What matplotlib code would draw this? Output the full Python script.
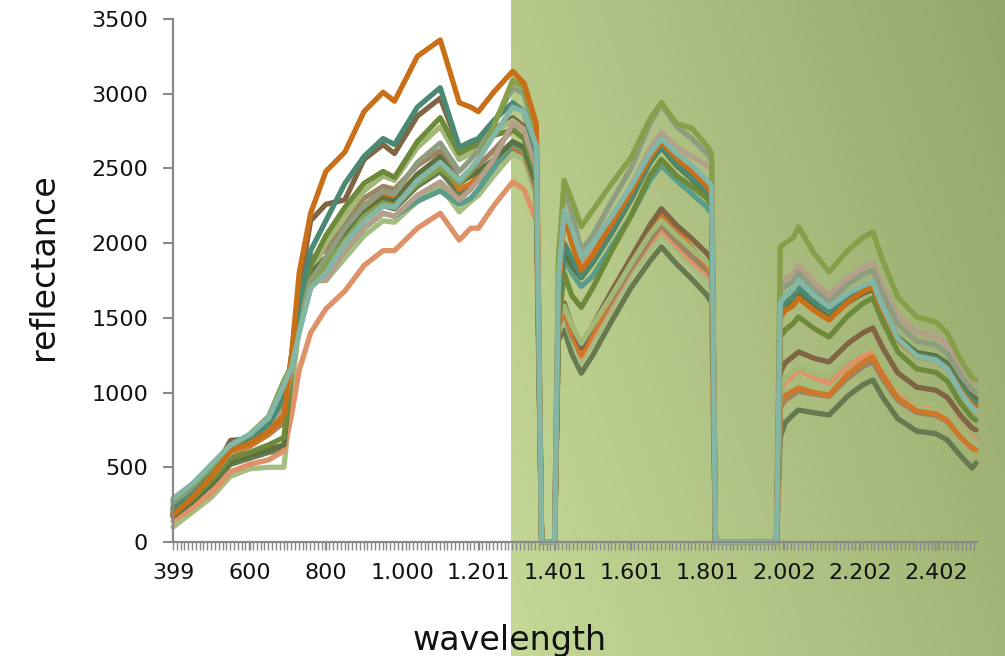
import numpy as np
import matplotlib
matplotlib.use("Agg")
import matplotlib.pyplot as plt
from matplotlib.colors import to_rgb

# ---------------- data ----------------
wavelength = [399, 450, 500, 550, 600, 650, 690, 710, 730, 760,
              800, 850, 900, 950, 980, 1040, 1100, 1150, 1180, 1200, 1240, 1290, 1320, 1352,
              1366, 1400,
              1410, 1425, 1445, 1470, 1500, 1550, 1600, 1650, 1680, 1720, 1760, 1800, 1812,
              1822, 1982,
              1992, 2005, 2025, 2040, 2080, 2120, 2170, 2210, 2235, 2260, 2300, 2350, 2400, 2430, 2465, 2495, 2505]

orange = [180, 300, 440, 610, 660, 740, 850, 1250, 1800, 2200,
          2480, 2610, 2880, 3010, 2950, 3250, 3360, 2940, 2910, 2880, 3010, 3150, 3070, 2800,
          0, 0,
          1650, 2200, 2000, 1820, 1920, 2130, 2340, 2570, 2680, 2570, 2480, 2380, 2330,
          0, 0,
          1500, 1550, 1580, 1633, 1550, 1486, 1608, 1678, 1707, 1554, 1353, 1241, 1217, 1160, 1016, 919, 903]
dark_teal = [220, 320, 450, 620, 680, 790, 960, 1200, 1600, 1950,
             2150, 2400, 2580, 2700, 2660, 2910, 3040, 2640, 2680, 2700, 2820, 2940, 2880, 2600,
             0, 0,
             1600, 2000, 1900, 1780, 1880, 2080, 2300, 2540, 2650, 2530, 2440, 2350, 2300,
             0, 0,
             1560, 1600, 1640, 1700, 1610, 1553, 1634, 1681, 1700, 1554, 1361, 1253, 1230, 1176, 1038, 945, 930]
brown = [200, 310, 450, 680, 690, 770, 900, 1250, 1700, 2150,
         2260, 2290, 2560, 2660, 2600, 2850, 2970, 2640, 2660, 2680, 2760, 2840, 2780, 2500,
         0, 0,
         1500, 1600, 1450, 1300, 1450, 1680, 1900, 2120, 2230, 2120, 2030, 1930, 1890,
         0, 0,
         1138, 1200, 1240, 1272, 1230, 1205, 1330, 1402, 1432, 1302, 1132, 1036, 1016, 968, 845, 763, 750]
olive = [190, 290, 410, 560, 600, 650, 700, 1150, 1500, 1850,
         2050, 2240, 2400, 2480, 2440, 2680, 2840, 2600, 2640, 2660, 2720, 2760, 2700, 2450,
         0, 0,
         1450, 1800, 1650, 1570, 1700, 1950, 2180, 2450, 2560, 2450, 2380, 2300, 2250,
         0, 0,
         1372, 1420, 1460, 1506, 1430, 1372, 1516, 1599, 1633, 1478, 1273, 1159, 1135, 1077, 930, 833, 816]
light_olive = [230, 330, 460, 620, 690, 800, 1000, 1180, 1480, 1800,
               2000, 2180, 2350, 2450, 2420, 2640, 2780, 2560, 2600, 2640, 2740, 2820, 2760, 2500,
               0, 0,
               1500, 1580, 1450, 1330, 1450, 1650, 1860, 2060, 2150, 2050, 1960, 1870, 1830,
               0, 0,
               1050, 1100, 1140, 1171, 1130, 1104, 1222, 1290, 1318, 1194, 1030, 938, 918, 873, 755, 676, 663]
grey_green = [260, 360, 480, 640, 700, 800, 980, 1180, 1450, 1750,
              1900, 2100, 2250, 2350, 2330, 2540, 2670, 2480, 2560, 2620, 2800, 3040, 3000, 2700,
              0, 0,
              1850, 2360, 2200, 1950, 2050, 2280, 2500, 2800, 2930, 2780, 2700, 2600, 2550,
              0, 0,
              1690, 1710, 1740, 1800, 1690, 1610, 1725, 1793, 1820, 1664, 1459, 1344, 1320, 1262, 1115, 1016, 1000]
dark_green = [170, 270, 390, 540, 580, 620, 650, 1150, 1500, 1800,
              1900, 2060, 2200, 2300, 2280, 2460, 2580, 2400, 2450, 2480, 2560, 2680, 2640, 2400,
              0, 0,
              1550, 1950, 1850, 1770, 1870, 2070, 2290, 2540, 2640, 2520, 2430, 2330, 2280,
              0, 0,
              1520, 1570, 1600, 1660, 1570, 1500, 1605, 1665, 1690, 1551, 1369, 1267, 1245, 1194, 1062, 975, 960]
teal_light = [290, 390, 520, 650, 720, 830, 1050, 1170, 1400, 1700,
              1800, 2000, 2150, 2250, 2240, 2420, 2540, 2420, 2500, 2560, 2720, 2910, 2880, 2650,
              0, 0,
              1750, 2220, 2100, 1910, 2000, 2180, 2380, 2600, 2700, 2600, 2520, 2420, 2380,
              0, 0,
              1600, 1650, 1690, 1753, 1650, 1573, 1665, 1718, 1740, 1577, 1363, 1243, 1217, 1157, 1003, 900, 883]
olive_green = [280, 380, 500, 640, 720, 840, 1080, 1180, 1420, 1700,
               1850, 2020, 2180, 2270, 2250, 2400, 2500, 2400, 2480, 2560, 2780, 3090, 3040, 2750,
               0, 0,
               1900, 2420, 2290, 2110, 2220, 2400, 2570, 2830, 2940, 2800, 2770, 2650, 2600,
               0, 0,
               1974, 2001, 2034, 2108, 1934, 1807, 1954, 2041, 2075, 1887, 1640, 1506, 1472, 1399, 1218, 1098, 1084]
tan = [210, 310, 440, 600, 660, 760, 900, 1150, 1450, 1750,
       1750, 1950, 2100, 2200, 2180, 2320, 2410, 2290, 2360, 2420, 2560, 2800, 2760, 2500,
       0, 0,
       1700, 2150, 2050, 1880, 1980, 2180, 2380, 2630, 2740, 2640, 2580, 2520, 2490,
       0, 0,
       1735, 1761, 1789, 1854, 1740, 1653, 1771, 1839, 1867, 1714, 1514, 1401, 1377, 1321, 1176, 1080, 1064]
light_green = [100, 200, 300, 440, 490, 500, 500, 1000, 1450, 1750,
               1750, 1900, 2050, 2150, 2140, 2280, 2380, 2210, 2280, 2320, 2450, 2600, 2560, 2300,
               0, 0,
               1400, 1500, 1360, 1200, 1330, 1560, 1780, 1960, 2050, 1950, 1850, 1730, 1690,
               0, 0,
               940, 1000, 1030, 1060, 1030, 1010, 1140, 1215, 1250, 1135, 983, 900, 882, 839, 730, 658, 640]
teal = [240, 330, 450, 600, 660, 740, 880, 1150, 1450, 1750,
        1780, 1950, 2100, 2200, 2180, 2280, 2350, 2260, 2300, 2360, 2500, 2670, 2620, 2380,
        0, 0,
        1500, 1900, 1800, 1710, 1780, 1980, 2180, 2420, 2520, 2420, 2330, 2240, 2200,
        0, 0,
        1540, 1590, 1620, 1680, 1595, 1530, 1624, 1678, 1700, 1558, 1370, 1265, 1243, 1190, 1055, 965, 950]
salmon = [140, 230, 330, 470, 520, 550, 610, 850, 1150, 1400,
          1560, 1680, 1850, 1950, 1950, 2100, 2200, 2020, 2100, 2100, 2250, 2410, 2360, 2150,
          0, 0,
          1450, 1560, 1400, 1240, 1380, 1600, 1820, 2000, 2090, 1980, 1880, 1790, 1750,
          0, 0,
          1020, 1070, 1110, 1151, 1100, 1064, 1178, 1245, 1272, 1160, 1013, 930, 913, 872, 765, 695, 683]
dark_olive = [180, 270, 380, 520, 560, 600, 620, 1100, 1500, 1800,
              1850, 2000, 2150, 2250, 2230, 2380, 2480, 2330, 2380, 2420, 2520, 2620, 2580, 2350,
              0, 0,
              1350, 1420, 1260, 1130, 1250, 1480, 1700, 1880, 1975, 1860, 1760, 1650, 1600,
              0, 0,
              703, 800, 850, 883, 865, 850, 979, 1054, 1084, 972, 825, 742, 725, 683, 577, 495, 529]
orange2 = [200, 300, 430, 590, 640, 720, 830, 1150, 1550, 1850,
           1900, 2050, 2230, 2320, 2300, 2460, 2560, 2360, 2400, 2450, 2560, 2650, 2600, 2350,
           0, 0,
           1450, 1560, 1400, 1250, 1400, 1650, 1880, 2090, 2200, 2080, 1970, 1850, 1800,
           0, 0,
           930, 980, 1010, 1031, 1000, 984, 1124, 1205, 1238, 1120, 964, 877, 859, 815, 703, 628, 616]
brown_light = [190, 290, 420, 600, 650, 720, 800, 1150, 1550, 1900,
               1950, 2120, 2300, 2380, 2360, 2520, 2620, 2420, 2480, 2520, 2620, 2760, 2700, 2450,
               0, 0,
               1450, 1540, 1380, 1260, 1400, 1620, 1830, 2020, 2120, 2010, 1910, 1820, 1780,
               0, 0,
               900, 950, 985, 1010, 990, 975, 1100, 1175, 1205, 1094, 948, 866, 848, 807, 702, 632, 620]

tick_values = [399, 600, 800, 1000, 1201, 1401, 1601, 1801, 2002, 2202, 2402]
tick_labels = ["399", "600", "800", "1.000", "1.201", "1.401", "1.601", "1.801", "2.002", "2.202", "2.402"]
y_ticks = [0, 500, 1000, 1500, 2000, 2500, 3000, 3500]

# draw order (last is on top)
series = [
    (dark_olive, "#66794f"),
    (light_green, "#a4bd80"),
    (salmon, "#df9268"),
    (brown_light, "#9c8462"),
    (orange2, "#d0782a"),
    (brown, "#7f6544"),
    (light_olive, "#a3b876"),
    (teal, "#5a9d8b"),
    (dark_green, "#5d7040"),
    (olive, "#6d8a3b"),
    (tan, "#b49f8a"),
    (grey_green, "#8e9c80"),
    (dark_teal, "#4b8a72"),
    (olive_green, "#86a04a"),
    (orange, "#c96f17"),
    (teal_light, "#84b6a6"),
]

plt.rcParams['font.family'] = ['DejaVu Sans']

W, H = 1005, 656
fig = plt.figure(figsize=(W / 100, H / 100), dpi=100)
fig.patch.set_facecolor("white")

# green gradient panel on the right
bg = fig.add_axes([511 / W, 0, (W - 511) / W, 1], zorder=0)
nx, ny = 300, 300
u = np.linspace(0, 1, nx)[None, :]
v = np.linspace(1, 0, ny)[:, None]
t = 0.7 * u + 0.3 * v
c0 = np.array(to_rgb("#c5d897"))
c1 = np.array(to_rgb("#95a66a"))
img = c0 + (c1 - c0) * t[..., None]
bg.imshow(img, aspect="auto", extent=[0, 1, 0, 1], interpolation="bilinear")
bg.set_axis_off()

ax = fig.add_axes([173 / W, 1 - 542 / H, 804 / W, 523 / H], zorder=1)
ax.patch.set_alpha(0)

for vals, col in series:
    ax.plot(wavelength, vals, color=col, lw=3.8, solid_joinstyle="round",
            solid_capstyle="round", clip_on=False)

ax.set_xlim(399, 2508)
ax.set_ylim(0, 3500)

axis_col = "#898989"
for s in ["top", "right"]:
    ax.spines[s].set_visible(False)
for s in ["left", "bottom"]:
    ax.spines[s].set_color(axis_col)
    ax.spines[s].set_linewidth(1.6)

ax.set_yticks(y_ticks)
ax.set_yticklabels([str(v) for v in y_ticks])
ax.set_xticks(tick_values)
ax.set_xticklabels(tick_labels)
ax.set_xticks(np.arange(399, 2509, 10), minor=True)

ax.tick_params(axis="y", length=7, width=1.5, color=axis_col, labelsize=16,
               pad=11, labelcolor="#111111")
ax.tick_params(axis="x", which="both", length=6, width=1.0, color=axis_col,
               direction="out")
ax.tick_params(axis="x", which="major", labelsize=16, pad=9, labelcolor="#111111")

fig.text(510 / W, 6 / H, "wavelength", ha="center", va="baseline", fontsize=24, color="#111111")
fig.text(44 / W, 1 - 267 / H, "reflectance", ha="center", va="center", rotation=90,
         fontsize=24, color="#111111")

fig.savefig("out.png", dpi=100)
